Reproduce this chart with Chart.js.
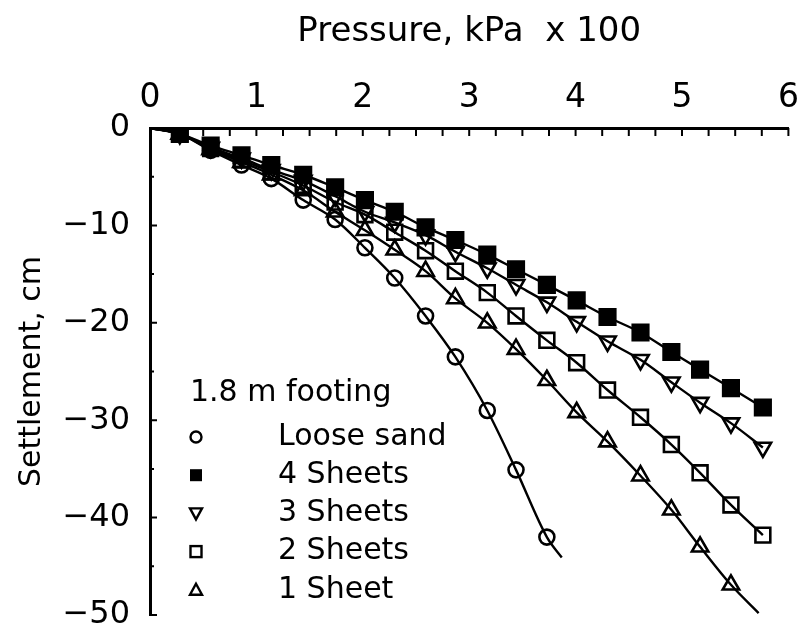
<!DOCTYPE html>
<html>
<head>
<meta charset="utf-8">
<script src="https://cdn.jsdelivr.net/npm/chart.js@4.4.0/dist/chart.umd.min.js"></script>
<style>
  html, body { margin: 0; padding: 0; background: #fff; }
  #wrap { width: 802px; height: 635px; }
</style>
</head>
<body>
<div id="wrap"><canvas id="chart"></canvas></div>
<script>
// pressure (kPa x 100) of the load steps; the first one is the origin
const pressure = [0, 0.28, 0.57, 0.86, 1.14, 1.44, 1.74, 2.02, 2.30, 2.59, 2.87,
                  3.17, 3.44, 3.73, 4.01, 4.30, 4.61, 4.90, 5.17, 5.46, 5.76];

// settlement (cm) at each step
const looseSand   = [0, -0.6, -2.3, -3.8, -5.2, -7.4, -9.4, -12.3, -15.4, -19.3, -23.5,
                     -29.0, -35.1, -42.0];
const fourSheets  = [0, -0.6, -1.8, -2.8, -3.8, -4.8, -6.1, -7.4, -8.6, -10.2, -11.5,
                     -13.0, -14.5, -16.1, -17.7, -19.4, -21.0, -23.0, -24.8, -26.7, -28.7];
const threeSheets = [0, -0.6, -2.0, -3.1, -4.3, -5.4, -7.0, -8.6, -9.7, -11.0, -12.7,
                     -14.4, -16.1, -17.9, -19.9, -21.9, -23.8, -26.1, -28.2, -30.3, -32.8];
const twoSheets   = [0, -0.6, -2.1, -3.3, -4.5, -5.9, -7.6, -8.9, -10.7, -12.6, -14.7,
                     -16.9, -19.3, -21.8, -24.1, -26.9, -29.7, -32.5, -35.4, -38.7, -41.8];
const oneSheet    = [0, -0.6, -2.2, -3.5, -4.8, -6.4, -8.6, -10.5, -12.5, -14.7, -17.5,
                     -20.0, -22.7, -25.9, -29.2, -32.2, -35.7, -39.2, -43.0, -46.9];

// where the drawn curve runs on past the last marker [pressure, settlement]
const looseSandTail = [3.87, -44.1];
const oneSheetTail  = [5.72, -49.8];

const xTicks = [0, 1, 2, 3, 4, 5, 6];
const yTicks = [0, -10, -20, -30, -40, -50];

const legendTitle = '1.8 m footing';
const FONT = '"DejaVu Sans", sans-serif';

function series(vals, tail) {
  const pts = vals.map((v, i) => ({ x: pressure[i], y: v }));
  if (tail) pts.push({ x: tail[0], y: tail[1] });
  return pts;
}

// no marker on the origin nor on the tail end
function radii(n, r, tail) {
  const arr = [];
  for (let i = 0; i < n; i++) arr.push(i === 0 ? 0 : r);
  if (tail) arr.push(0);
  return arr;
}

const datasets = [
  { label: 'Loose sand', data: series(looseSand, looseSandTail), pointStyle: 'circle',
    pointRadius: radii(looseSand.length, 7.5, true), rotation: 0 },
  { label: '4 Sheets', data: series(fourSheets), pointStyle: 'rect',
    pointRadius: radii(fourSheets.length, 11), rotation: 0, filled: true },
  { label: '3 Sheets', data: series(threeSheets), pointStyle: 'triangle',
    pointRadius: radii(threeSheets.length, 9.5), rotation: 180 },
  { label: '2 Sheets', data: series(twoSheets), pointStyle: 'rect',
    pointRadius: radii(twoSheets.length, 10.5), rotation: 0 },
  { label: '1 Sheet', data: series(oneSheet, oneSheetTail), pointStyle: 'triangle',
    pointRadius: radii(oneSheet.length, 9.5, true), rotation: 0 }
].map(d => Object.assign({
  borderColor: '#000',
  borderWidth: 2.4,
  pointBorderColor: '#000',
  pointBorderWidth: 2.6,
  pointBackgroundColor: d.filled ? '#000' : 'rgba(0,0,0,0)',
  pointRotation: d.rotation,
  cubicInterpolationMode: 'monotone'
}, d));

// inward tick marks on the top and left axes
const innerTicks = {
  id: 'innerTicks',
  afterDraw(chart) {
    const { ctx, chartArea: a, scales: { x, y } } = chart;
    ctx.save();
    ctx.strokeStyle = '#000';
    ctx.lineWidth = 2;
    ctx.beginPath();
    for (let v = 0.25; v <= 6.001; v += 0.25) {
      const px = x.getPixelForValue(v);
      ctx.moveTo(px, a.top);
      ctx.lineTo(px, a.top + 8);
    }
    for (let v = -5; v >= -50; v -= 5) {
      const py = y.getPixelForValue(v);
      const len = v % 10 === 0 ? 7 : 4;
      ctx.moveTo(a.left, py);
      ctx.lineTo(a.left + len, py);
    }
    ctx.stroke();
    ctx.restore();
  }
};

// legend block drawn inside the plot, as in the figure
const footLegend = {
  id: 'footLegend',
  afterDraw(chart) {
    const ctx = chart.ctx;
    ctx.save();
    ctx.fillStyle = '#000';
    ctx.strokeStyle = '#000';
    ctx.lineWidth = 2.4;
    ctx.textBaseline = 'middle';
    ctx.font = '30px ' + FONT;
    ctx.fillText(legendTitle, 190, 393);
    const mx = 196, tx = 278, y0 = 437, dy = 38.2;
    chart.data.datasets.forEach((d, i) => {
      const cy = y0 + i * dy;
      ctx.fillText(d.label, tx, cy);
      ctx.beginPath();
      if (d.pointStyle === 'circle') {
        ctx.arc(mx, cy, 5.5, 0, Math.PI * 2);
        ctx.stroke();
      } else if (d.pointStyle === 'rect') {
        if (d.filled) ctx.fillRect(mx - 6, cy - 6, 12, 12);
        else ctx.strokeRect(mx - 5.5, cy - 5.5, 11, 11);
      } else {
        const s = d.pointRotation === 180 ? -1 : 1;
        ctx.moveTo(mx, cy - 6 * s);
        ctx.lineTo(mx + 6, cy + 5 * s);
        ctx.lineTo(mx - 6, cy + 5 * s);
        ctx.closePath();
        ctx.stroke();
      }
    });
    ctx.restore();
  }
};

new Chart(document.getElementById('chart'), {
  type: 'line',
  data: { datasets },
  plugins: [innerTicks, footLegend],
  options: {
    responsive: true,
    maintainAspectRatio: false,
    animation: false,
    layout: { padding: { left: 0, right: 4, top: 0, bottom: 20 } },
    plugins: { legend: { display: false }, tooltip: { enabled: false } },
    scales: {
      x: {
        type: 'linear',
        position: 'top',
        min: 0, max: 6,
        afterBuildTicks: s => { s.ticks = xTicks.map(v => ({ value: v })); },
        afterFit: s => { s.height = 128; s.paddingLeft = 0; s.paddingRight = 0; },
        grid: { display: false, drawTicks: false },
        border: { display: true, color: '#000', width: 3 },
        ticks: { color: '#000', padding: 10, maxRotation: 0, font: { family: FONT, size: 33 } },
        title: { display: true, text: 'Pressure, kPa  x 100', color: '#000',
                 padding: { top: 12, bottom: 0 }, font: { family: FONT, size: 34 } }
      },
      y: {
        type: 'linear',
        min: -50, max: 0,
        afterBuildTicks: s => { s.ticks = yTicks.map(v => ({ value: v })); },
        afterFit: s => { s.width = 150; s.paddingTop = 0; s.paddingBottom = 0; },
        grid: { display: false, drawTicks: false },
        border: { display: true, color: '#000', width: 3 },
        ticks: { color: '#000', padding: 20,
                 callback: v => String(v).replace('-', '\u2212'),
                 font: { family: FONT, size: 32 } },
        title: { display: true, text: 'Settlement, cm', color: '#000',
                 padding: { top: 14, bottom: 0 }, font: { family: FONT, size: 30 } }
      }
    }
  }
});
</script>
</body>
</html>
